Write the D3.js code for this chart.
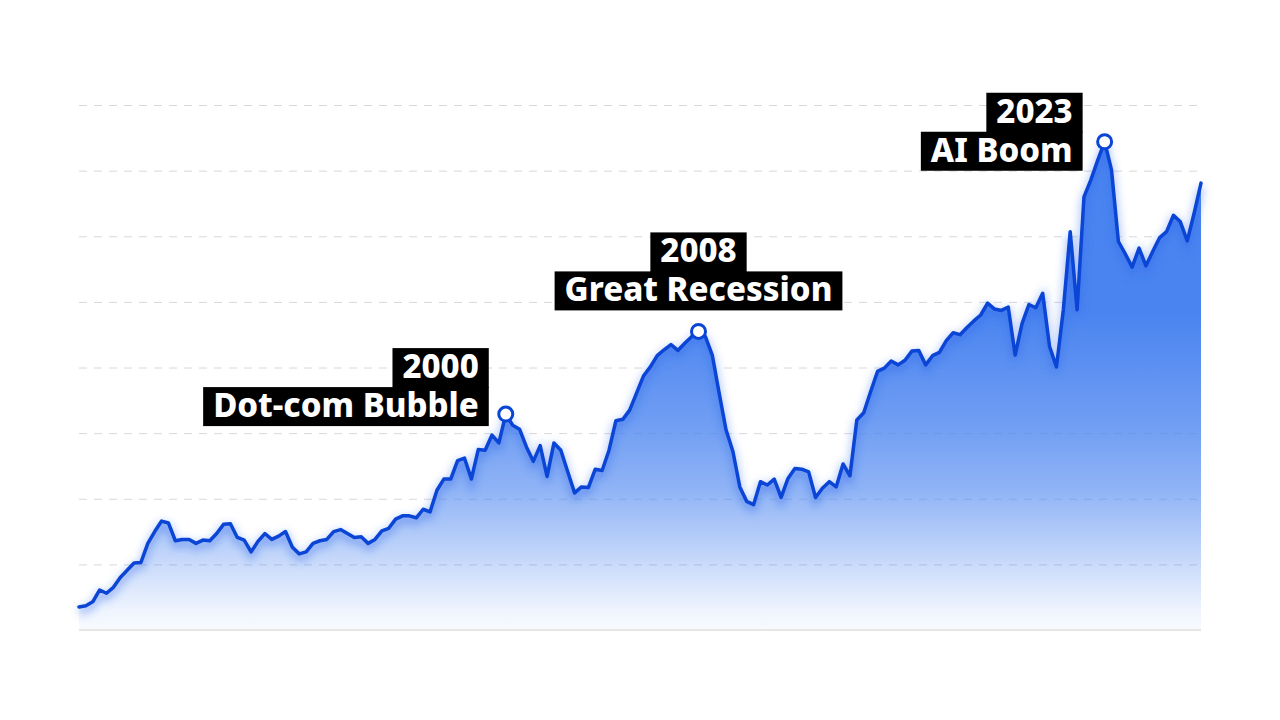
<!DOCTYPE html>
<html><head><meta charset="utf-8">
<script src="https://cdn.jsdelivr.net/npm/d3@7"></script>
<style>
html,body{margin:0;padding:0;background:#fff;}
svg{display:block;}
text{font-family:"Noto Sans",sans-serif;}
</style></head><body>
<svg id="chart" width="1280" height="720"></svg>
<script>
// ---- data (quarterly index values) ----
const values = [
 35,37,43,61,56,65,80,91,102,103,132,150,166,163,136,138,138,132,137,136,
 147,161,162,141,137,119,135,147,138,143,150,126,116,119,132,136,138,150,153,147,
 141,142,132,138,151,155,169,174,174,171,184,180,213,230,230,258,262,230,275,274,
 297,285,329,312,306,279,257,281,234,285,274,241,209,218,217,245,243,274,319,321,
 335,361,387,401,418,427,435,426,437,447,455,447,419,361,305,272,218,196,191,226,
 221,230,202,231,246,245,241,202,216,226,218,253,235,320,331,363,394,399,410,404,
 411,425,426,404,418,423,441,453,450,461,471,480,498,489,487,492,419,467,496,491,
 513,432,401,488,607,488,660,686,716,744,701,592,573,553,582,555,577,598,607,632,
 622,593,635,681
];
const gridTicks = [100,200,300,400,500,600,700,800];
const annotIndex = [62, 90, 149];
const annotYear  = ["2000", "2008", "2023"];
const annotName  = ["Dot-com Bubble", "Great Recession", "AI Boom"];

// ---- layout / style ----
const plot = {left: 79, right: 1201, top: 105, bottom: 630};
const labelLayout = [
  {align: "right",  dx: -17, dy: 12},
  {align: "center", dx: 0,   dy: -21},
  {align: "right",  dx: -22, dy: 29}
];
const lineColor = "#0a45d6";
const areaColor = "#4a84f0";

const svg = d3.select("#chart");
const x = d3.scaleLinear().domain([0, values.length - 1]).range([plot.left, plot.right]);
const y = d3.scaleLinear().domain([0, 800]).range([plot.bottom, plot.top]);

const defs = svg.append("defs");
const grad = defs.append("linearGradient")
  .attr("id", "areaGrad").attr("gradientUnits", "userSpaceOnUse")
  .attr("x1", 0).attr("x2", 0).attr("y1", y(d3.max(values))).attr("y2", y(0));
[[0, 1], [0.35, 1], [0.57, 0.8], [0.71, 0.62], [0.84, 0.35], [0.96, 0.09], [1, 0.04]]
  .forEach(([o, a]) => grad.append("stop").attr("offset", o)
    .attr("stop-color", areaColor).attr("stop-opacity", a));

const blur = defs.append("filter").attr("id", "glow")
  .attr("x", "-5%").attr("y", "-20%").attr("width", "110%").attr("height", "140%");
blur.append("feGaussianBlur").attr("stdDeviation", 4);

// grid
const grid = svg.append("g")
  .attr("transform", `translate(${plot.left},0)`)
  .call(d3.axisLeft(y).tickValues(gridTicks).tickSize(-(plot.right - plot.left)).tickFormat(""));
grid.select(".domain").remove();
grid.selectAll(".tick line")
  .attr("stroke", "#d8d8d8").attr("stroke-width", 1).attr("stroke-dasharray", "8,7");

// area
const area = d3.area().x((d, i) => x(i)).y0(y(0)).y1(d => y(d));
svg.append("path").datum(values).attr("d", area).attr("fill", "url(#areaGrad)");

// baseline
svg.append("line")
  .attr("x1", plot.left).attr("x2", plot.right).attr("y1", y(0)).attr("y2", y(0))
  .attr("stroke", "#e6e6e6").attr("stroke-width", 2);

// line glow
const line = d3.line().x((d, i) => x(i)).y(d => y(d));
svg.append("path").datum(values).attr("d", line)
  .attr("fill", "none").attr("stroke", "#2a63e8").attr("stroke-width", 6)
  .attr("stroke-opacity", 0.45).attr("filter", "url(#glow)")
  .attr("transform", "translate(0,4)");

// line
svg.append("path").datum(values).attr("d", line)
  .attr("fill", "none").attr("stroke", lineColor).attr("stroke-width", 3.5)
  .attr("stroke-linejoin", "round").attr("stroke-linecap", "round");

// annotation markers
svg.selectAll("circle.mark").data(annotIndex).join("circle")
  .attr("class", "mark")
  .attr("cx", i => x(i)).attr("cy", i => y(values[i])).attr("r", 7)
  .attr("fill", "#fff").attr("stroke", lineColor).attr("stroke-width", 3);

// labels: one text element per annotation, two tspans (year / name)
const fontSize = 33, boxH = 39, padX = 10, baseOff = 30;
annotIndex.forEach((idx, k) => {
  const L = labelLayout[k];
  const px = x(idx), py = y(values[idx]);
  const g = svg.append("g");
  const rects = g.append("g");
  const txt = g.append("text")
    .attr("font-size", fontSize).attr("font-weight", 800).attr("fill", "#fff");
  const s1 = txt.append("tspan").text(annotYear[k]);
  const s2 = txt.append("tspan").text(annotName[k]);
  const w1 = s1.node().getComputedTextLength() + 2 * padX;
  const w2 = s2.node().getComputedTextLength() + 2 * padX;
  const bottom = py + L.dy;
  const top2 = bottom - boxH, top1 = top2 - boxH;
  let r1x, r2x;
  if (L.align === "right") {
    const right = px + L.dx;
    r1x = right - w1; r2x = right - w2;
  } else {
    r1x = px - w1 / 2; r2x = px - w2 / 2;
  }
  rects.append("rect").attr("x", r1x).attr("y", top1).attr("width", w1).attr("height", boxH + 1).attr("fill", "#000");
  rects.append("rect").attr("x", r2x).attr("y", top2).attr("width", w2).attr("height", boxH).attr("fill", "#000");
  s1.attr("x", r1x + padX).attr("y", top1 + baseOff);
  s2.attr("x", r2x + padX).attr("y", top2 + baseOff);
});
</script>
</body></html>
